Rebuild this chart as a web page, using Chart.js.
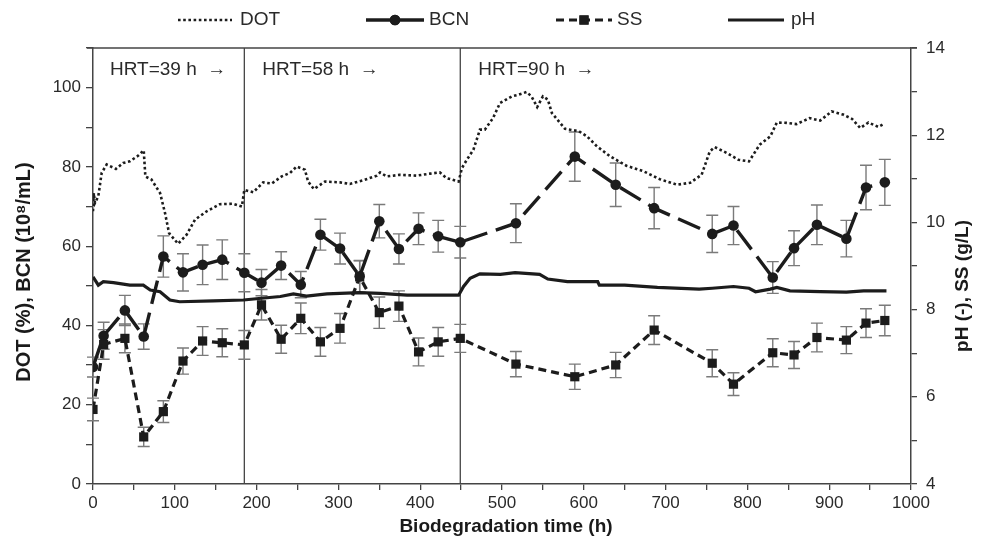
<!DOCTYPE html>
<html>
<head>
<meta charset="utf-8">
<script src="https://cdn.jsdelivr.net/npm/chart.js@4.4.0/dist/chart.umd.min.js"></script>
<style>
html, body { margin: 0; padding: 0; background: #fff; }
#wrap { width: 981px; height: 546px; position: relative; }
</style>
</head>
<body>
<div id="wrap"><canvas id="myChart"></canvas></div>
<script>
// sampling times (h) shared by BCN and SS
var sampleTime = [0, 13, 39, 62, 86, 110, 134, 158, 185, 206, 230, 254, 278, 302, 326, 350,
  374, 398, 422, 449, 517, 589, 639, 686, 757, 783, 831, 857, 885, 921, 945, 968];
var bcnValues = [29.5, 37.4, 43.8, 37.2, 57.4, 53.4, 55.3, 56.6, 53.3, 50.8, 55.1, 50.3, 62.9, 59.4, 52.4, 66.3,
  59.3, 64.4, 62.5, 61.0, 65.8, 82.6, 75.5, 69.6, 63.1, 65.2, 52.1, 59.5, 65.4, 61.9, 74.8, 76.1];
var bcnErrors = [2.5, 3.4, 3.8, 3.2, 5.2, 4.7, 5.0, 5.0, 4.8, 3.3, 3.5, 3.3, 3.9, 3.9, 4.0, 4.2,
  3.8, 4.0, 4.0, 4.0, 4.9, 6.2, 5.5, 5.2, 4.7, 4.8, 4.0, 4.4, 5.0, 4.6, 5.6, 5.8];
var ssValues = [5.71, 7.20, 7.34, 5.08, 5.66, 6.82, 7.28, 7.24, 7.19, 8.11, 7.32, 7.80, 7.26, 7.57, 8.75, 7.93,
  8.08, 7.03, 7.26, 7.34, 6.75, 6.46, 6.73, 7.53, 6.77, 6.29, 7.01, 6.96, 7.36, 7.30, 7.69, 7.75];
var ssErrors = [0.26, 0.34, 0.33, 0.22, 0.25, 0.30, 0.33, 0.32, 0.33, 0.35, 0.32, 0.35, 0.33, 0.34, 0.37, 0.36,
  0.35, 0.32, 0.33, 0.32, 0.29, 0.29, 0.29, 0.33, 0.31, 0.26, 0.32, 0.31, 0.33, 0.31, 0.33, 0.35];

var dotTime = [0, 1, 2.4, 6.5, 10.6, 16.7, 28, 37, 45, 55, 62, 64, 71.5, 82, 88, 93, 104, 114.5, 124.7, 139,
  155, 171.5, 182, 185, 196, 208, 218.5, 230.7, 241, 249, 259, 263, 270, 283.6, 302, 314, 330, 347, 351, 359,
  375, 395.7, 412, 424, 432, 447, 451, 457, 465, 473, 479, 489, 497.5, 512, 520, 530, 536, 543, 550, 556,
  561, 571, 577, 594, 604, 616, 632, 652, 673, 693, 714, 730, 744, 754, 760, 775, 789, 802, 815, 828,
  836, 848, 860, 876, 889, 903, 917, 928, 938, 948, 960, 967];
var dotValues = [68.8, 73.4, 70.9, 72.6, 78.5, 80.6, 79.5, 81.0, 81.4, 82.8, 84.2, 77.6, 76.8, 73.4, 68.4, 63.3, 60.6, 62.9, 66.7, 68.8,
  70.6, 70.7, 70.0, 74.2, 73.6, 76.1, 75.8, 77.6, 78.5, 80.1, 79.3, 76.3, 74.4, 76.3, 76.1, 75.7, 76.6, 77.8, 78.6, 77.6,
  78.0, 77.8, 78.3, 78.6, 77.2, 76.3, 79.7, 81.8, 84.3, 89.4, 89.4, 92.3, 96.1, 97.8, 98.2, 98.9, 97.8, 95.1, 97.8, 97.0,
  93.6, 91.1, 89.6, 89.0, 87.7, 85.2, 82.7, 80.3, 78.9, 76.9, 75.5, 76.0, 78.0, 83.9, 85.0, 83.5, 81.8, 81.4, 85.6, 87.7,
  91.2, 91.1, 90.8, 92.3, 91.7, 94.0, 93.2, 92.1, 89.8, 91.2, 90.1, 90.9];

var phTime = [0, 6.5, 12.6, 25, 45, 61.5, 70, 82, 94, 106, 147, 184, 206, 229, 245, 261, 286, 302, 326, 351,
  384, 424, 447, 453, 461, 473, 498, 516, 546, 556, 580, 617, 619, 650, 690, 741, 757, 783, 802, 810,
  828, 836, 852, 889, 921, 942, 970];
var phValues = [8.75, 8.56, 8.64, 8.62, 8.56, 8.56, 8.45, 8.41, 8.22, 8.18, 8.20, 8.22, 8.26, 8.30, 8.36, 8.31, 8.36, 8.37, 8.39, 8.37,
  8.33, 8.33, 8.33, 8.53, 8.72, 8.82, 8.81, 8.85, 8.81, 8.70, 8.64, 8.64, 8.56, 8.56, 8.51, 8.47, 8.49, 8.53, 8.49, 8.41,
  8.47, 8.51, 8.43, 8.41, 8.40, 8.43, 8.43];

var hrtStart = [0, 185, 449];
var hrtLabels = ['HRT=39 h  \u2192', 'HRT=58 h  \u2192', 'HRT=90 h  \u2192'];

var ink = '#1c1c1c', axisGrey = '#444', errGrey = '#7a7a7a';
var fontFamily = "'Liberation Sans', Arial, Helvetica, sans-serif";

function pairs(xs, ys) {
  return xs.map(function(x, i) { return {x: x, y: ys[i]}; });
}

// legend sample positions along the top: [line start, line end, text x]
var legendSlots = [[178, 232, 240], [366, 424, 429], [556, 612, 617], [728, 784, 791]];

var decorations = {
  id: 'decorations',
  beforeDatasetsDraw: function(chart) {
    var ctx = chart.ctx, a = chart.chartArea, xs = chart.scales.x;
    ctx.save();
    ctx.strokeStyle = axisGrey;
    ctx.lineWidth = 1.3;
    ctx.beginPath();
    ctx.moveTo(a.left - 6, a.top);
    ctx.lineTo(a.right + 6, a.top);
    ctx.stroke();
    ctx.font = '19px ' + fontFamily;
    ctx.fillStyle = '#2a2a2a';
    ctx.textBaseline = 'middle';
    hrtStart.forEach(function(h, i) {
      var px = xs.getPixelForValue(h);
      if (i > 0) {
        ctx.beginPath();
        ctx.moveTo(px, a.top);
        ctx.lineTo(px, a.bottom);
        ctx.stroke();
      }
      ctx.fillText(hrtLabels[i], px + (i == 0 ? 17 : 18), a.top + 22);
    });
    // error bars under the markers
    ctx.strokeStyle = errGrey;
    ctx.lineWidth = 1.4;
    chart.data.datasets.forEach(function(ds) {
      if (!ds.errors) return;
      var ys = chart.scales[ds.yAxisID];
      ds.data.forEach(function(p, j) {
        var px = xs.getPixelForValue(p.x);
        var hi = ys.getPixelForValue(p.y + ds.errors[j]);
        var lo = ys.getPixelForValue(p.y - ds.errors[j]);
        ctx.beginPath();
        ctx.moveTo(px, hi); ctx.lineTo(px, lo);
        ctx.moveTo(px - 6, hi); ctx.lineTo(px + 6, hi);
        ctx.moveTo(px - 6, lo); ctx.lineTo(px + 6, lo);
        ctx.stroke();
      });
    });
    ctx.restore();
  },
  afterDraw: function(chart) {
    var ctx = chart.ctx, a = chart.chartArea;
    ctx.save();
    // legend
    ctx.font = '19px ' + fontFamily;
    ctx.textBaseline = 'middle';
    chart.data.datasets.forEach(function(ds, i) {
      var s = legendSlots[i], y = 20;
      ctx.strokeStyle = ink;
      ctx.lineWidth = ds.borderWidth;
      ctx.setLineDash(ds.legendDash || []);
      ctx.beginPath();
      ctx.moveTo(s[0], y);
      ctx.lineTo(s[1], y);
      ctx.stroke();
      ctx.setLineDash([]);
      if (ds.pointRadius > 0) {
        ctx.fillStyle = ink;
        Chart.helpers.drawPoint(ctx, {pointStyle: ds.pointStyle, radius: ds.pointRadius, rotation: 0, borderWidth: 0}, (s[0] + s[1]) / 2, y);
        ctx.fill();
      }
      ctx.fillStyle = '#2a2a2a';
      ctx.fillText(ds.label, s[2], y);
    });
    // axis titles
    ctx.fillStyle = '#1a1a1a';
    ctx.textAlign = 'center';
    ctx.font = 'bold 19px ' + fontFamily;
    ctx.fillText('Biodegradation time (h)', (a.left + a.right) / 2 + 4, 527);
    ctx.save();
    ctx.font = 'bold 20px ' + fontFamily;
    ctx.translate(24, (a.top + a.bottom) / 2 + 6);
    ctx.rotate(-Math.PI / 2);
    ctx.fillText('DOT (%), BCN (10\u2078/mL)', 0, 0);
    ctx.restore();
    ctx.save();
    ctx.translate(963, (a.top + a.bottom) / 2 + 20);
    ctx.rotate(-Math.PI / 2);
    ctx.fillText('pH (-), SS (g/L)', 0, 0);
    ctx.restore();
    ctx.restore();
  }
};

Chart.defaults.font.family = fontFamily;
Chart.defaults.font.size = 17;
Chart.defaults.color = '#2a2a2a';

var ctx = document.getElementById('myChart').getContext('2d');
var chart = new Chart(ctx, {
  type: 'scatter',
  data: {
    datasets: [
      {
        label: 'DOT',
        data: pairs(dotTime, dotValues),
        yAxisID: 'yLeft',
        showLine: true,
        borderColor: ink,
        borderWidth: 2.6,
        borderDash: [2.6, 2.6],
        legendDash: [2.6, 2.6],
        pointRadius: 0,
        tension: 0
      },
      {
        label: 'BCN',
        data: pairs(sampleTime, bcnValues),
        errors: bcnErrors,
        yAxisID: 'yLeft',
        showLine: true,
        borderColor: ink,
        backgroundColor: ink,
        borderWidth: 3.4,
        borderDash: [24, 9],
        pointStyle: 'circle',
        pointRadius: 5.3,
        pointBorderWidth: 0,
        pointBackgroundColor: ink
      },
      {
        label: 'SS',
        data: pairs(sampleTime, ssValues),
        errors: ssErrors,
        yAxisID: 'yRight',
        showLine: true,
        borderColor: ink,
        backgroundColor: ink,
        borderWidth: 3.2,
        borderDash: [8, 5],
        legendDash: [8, 5],
        pointStyle: 'rect',
        pointRadius: 6.5,
        pointBorderWidth: 0,
        pointBackgroundColor: ink
      },
      {
        label: 'pH',
        data: pairs(phTime, phValues),
        yAxisID: 'yRight',
        showLine: true,
        borderColor: ink,
        borderWidth: 3.2,
        pointRadius: 0
      }
    ]
  },
  options: {
    responsive: true,
    maintainAspectRatio: false,
    animation: false,
    layout: { padding: { top: 48, left: 0, right: 0, bottom: 0 } },
    plugins: {
      legend: { display: false },
      tooltip: { enabled: false }
    },
    scales: {
      x: {
        type: 'linear',
        min: 0,
        max: 1000,
        afterFit: function(s) { s.height = 62; },
        grid: { drawOnChartArea: false, tickLength: 6, color: axisGrey, lineWidth: 1.3 },
        border: { color: axisGrey, width: 1.5 },
        ticks: {
          stepSize: 50,
          autoSkip: false,
          maxRotation: 0,
          padding: 3,
          callback: function(v) { return v % 100 === 0 ? v : ''; }
        }
      },
      yLeft: {
        type: 'linear',
        position: 'left',
        min: 0,
        max: 110,
        afterFit: function(s) { s.width = 93; },
        grid: { drawOnChartArea: false, tickLength: 7, color: axisGrey, lineWidth: 1.3 },
        border: { color: axisGrey, width: 1.5 },
        ticks: {
          stepSize: 10,
          autoSkip: false,
          padding: 5,
          callback: function(v) { return v % 20 === 0 ? v : ''; }
        }
      },
      yRight: {
        type: 'linear',
        position: 'right',
        min: 4,
        max: 14,
        afterFit: function(s) { s.width = 70; },
        grid: { drawOnChartArea: false, tickLength: 6, color: axisGrey, lineWidth: 1.3 },
        border: { color: axisGrey, width: 1.5 },
        ticks: {
          stepSize: 1,
          autoSkip: false,
          padding: 9,
          callback: function(v) { return v % 2 === 0 ? v : ''; }
        }
      }
    }
  },
  plugins: [decorations]
});
</script>
</body>
</html>
